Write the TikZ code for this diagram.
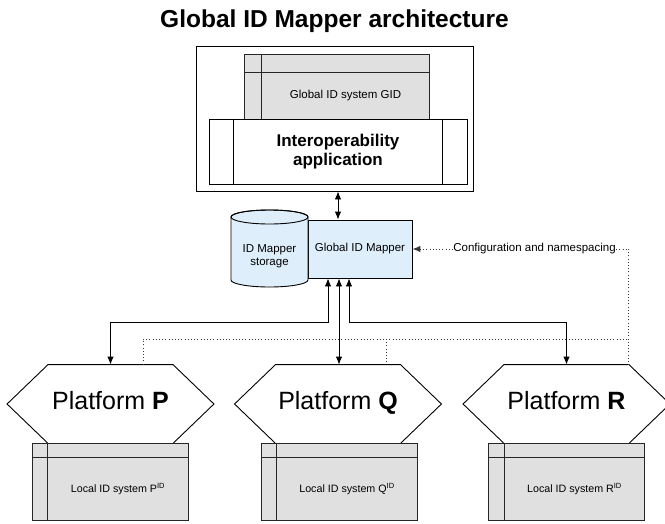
\documentclass[tikz,border=0pt]{standalone}
\usepackage{fontspec}
\setmainfont{Liberation Sans}
\usetikzlibrary{arrows.meta}
\definecolor{boxgray}{RGB}{224,224,224}
\definecolor{mapblue}{RGB}{222,238,250}
\definecolor{dotgray}{RGB}{55,55,55}
\begin{document}
\begin{tikzpicture}[x=1pt,y=-1pt,line width=0.9pt,
  biarrow/.style={draw=black,line width=0.9pt,{Latex[length=8pt,width=6.5pt]}-{Latex[length=8pt,width=6.5pt]}},
  dotline/.style={draw=dotgray,line width=1pt,dash pattern=on 1pt off 2.2pt},
  whitebox/.style={draw=black,fill=white,inner sep=0pt},
  graybox/.style={draw=black!85,fill=boxgray,inner sep=0pt},
  smalltext/.style={font=\fontsize{11.5}{13}\selectfont,inner sep=0pt},
  localtext/.style={font=\fontsize{10.7}{12}\selectfont,inner sep=0pt,anchor=base},
  hexnode/.style={minimum width=124pt,minimum height=78pt,inner sep=0pt},
  hextext/.style={font=\fontsize{25}{28}\selectfont,inner sep=0pt,anchor=base}
]
\useasboundingbox (0,0) rectangle (665,523);

% title
\node[font=\fontsize{24.5}{28}\selectfont\bfseries,inner sep=0pt,anchor=base] (title) at (334.5,27) {Global ID Mapper architecture};

% top block
\node[whitebox,minimum width=277pt,minimum height=145pt] (outer) at (334.5,118.5) {};
\node[graybox,minimum width=185pt,minimum height=65pt] (gid) at (336.5,86.5) {};
\draw[black!85] ([xshift=18pt]gid.north west) -- ([xshift=18pt]gid.south west);
\draw[black!85] ([yshift=-19pt]gid.north west) -- ([yshift=-19pt]gid.north east);
\node[smalltext] (gidtext) at (345.5,95.3) {Global ID system GID};
\node[whitebox,minimum width=258pt,minimum height=65pt] (interop) at (338,151.5) {};
\draw ([xshift=25pt]interop.north west) -- ([xshift=25pt]interop.south west);
\draw ([xshift=-25pt]interop.north east) -- ([xshift=-25pt]interop.south east);
\node[font=\fontsize{17}{19}\selectfont\bfseries,align=center,inner sep=0pt] (interoptext) at (338,151.2) {Interoperability\\application};

% mapper and storage
\node[draw=black,fill=mapblue,minimum width=104pt,minimum height=58pt,inner sep=0pt,font=\fontsize{11.5}{13}\selectfont] (mapper) at (360,249) {Global ID Mapper};
\path[draw=black,fill=mapblue] (231,217) -- (231,280) arc[start angle=180,end angle=0,x radius=38.5,y radius=7] -- (308,217) arc[start angle=0,end angle=-180,x radius=38.5,y radius=7] -- cycle;
\draw (269.5,217) ellipse[x radius=38.5,y radius=7];
\node[smalltext,align=center] (store) at (269.5,256) {ID Mapper\\storage};

% configuration
\node[smalltext] (cfg) at (534.5,249) {Configuration and namespacing};

% platforms
\foreach \n/\x/\bx in {P/110.5/110,Q/338/339,R/566.5/566.5}{
  \node[hexnode] (\n) at (\x,404) {};
  \draw[fill=white] (\n.north west) -- (\n.north east) -- ([xshift=41pt]\n.east) -- (\n.south east) -- (\n.south west) -- ([xshift=-41pt]\n.west) -- cycle;
  \node[hextext] (\n label) at (\x,409) {Platform \textbf{\n}};
  \node[graybox,minimum width=156pt,minimum height=77pt] (\n id) at (\bx,481.5) {};
  \draw[black!85] ([xshift=16pt]\n id.north west) -- ([xshift=16pt]\n id.south west);
  \draw[black!85] ([yshift=-15pt]\n id.north west) -- ([yshift=-15pt]\n id.north east);
  \node[localtext] (\n idtext) at (\bx+8,492) {Local ID system \n\textsuperscript{ID}};
}

% connectors
\coordinate (a0) at (338,200);
\draw[biarrow] (a0 |- outer.south) -- (a0 |- mapper.north);

\draw[dotline,{Latex[length=8pt,width=6.5pt]}-] (mapper.east) -- (cfg.west);
\draw[dotline] (cfg.east) -| (R.north east);

\coordinate (busL) at (143,339);
\coordinate (busR) at (628,339);
\coordinate (qdrop) at (386,339);
\draw[dotline] (busL |- P.north) -- (busL) -- (busR);
\draw[dotline] (qdrop) -- (qdrop |- Q.north);

\coordinate (a1) at (328,322);
\coordinate (a2) at (339,322);
\coordinate (a3) at (349,322);
\draw[biarrow] (a1 |- mapper.south) -- (a1) -| (P.north);
\draw[biarrow] (a2 |- mapper.south) -- (a2 |- Q.north);
\draw[biarrow] (a3 |- mapper.south) -- (a3) -| (R.north);
\end{tikzpicture}
\end{document}
